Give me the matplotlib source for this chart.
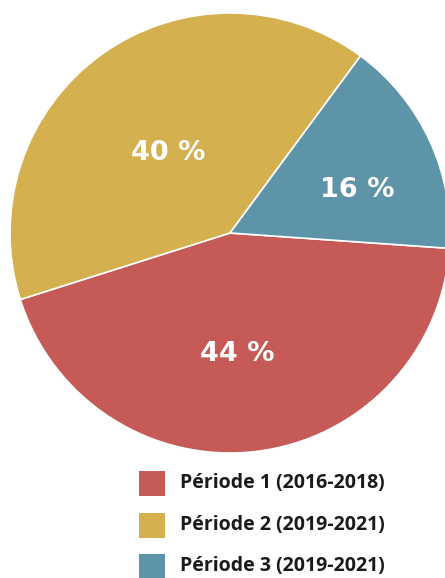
import matplotlib
matplotlib.use("Agg")
import matplotlib.pyplot as plt
from matplotlib.patches import Rectangle
import numpy as np

categories = ["Période 1 (2016-2018)", "Période 2 (2019-2021)", "Période 3 (2019-2021)"]
values = [44, 40, 16]
pct_labels = ["44 %", "40 %", "16 %"]
colors = ["#C55A57", "#D4B04E", "#5E94A8"]

W, H = 445, 578
fig = plt.figure(figsize=(W / 100, H / 100), dpi=100)

cx, cy, r = 230, 233, 220
ax = fig.add_axes([(cx - r) / W, (H - cy - r) / H, 2 * r / W, 2 * r / H])
wedges, _ = ax.pie(values, colors=colors, startangle=-4, counterclock=False,
                   wedgeprops=dict(edgecolor="white", linewidth=1.2), radius=1.0)
ax.set_xlim(-1, 1)
ax.set_ylim(-1, 1)
ax.set_aspect("equal")
ax.axis("off")

# label placement (radius fraction, angle in degrees)
label_pos = [(0.55, -86.7), (0.46, 127.8), (0.61, 18.7)]
for txt, (rf, ang) in zip(pct_labels, label_pos):
    a = np.deg2rad(ang)
    ax.text(rf * np.cos(a), rf * np.sin(a), txt, ha="center", va="center",
            color="white", fontsize=19.5, fontweight="bold", family="DejaVu Sans")

# legend
row_y = [483, 525, 566]
for cat, col, y in zip(categories, colors, row_y):
    fig.add_artist(Rectangle(((139) / W, (H - y - 12.5) / H), 26 / W, 25 / H,
                             transform=fig.transFigure, facecolor=col, edgecolor="none"))
    fig.text(180 / W, (H - y) / H, cat, ha="left", va="center", fontsize=14,
             fontweight="bold", color="#1a1a1a", family=["Open Sans", "DejaVu Sans"])

fig.savefig("out.png", dpi=100)
